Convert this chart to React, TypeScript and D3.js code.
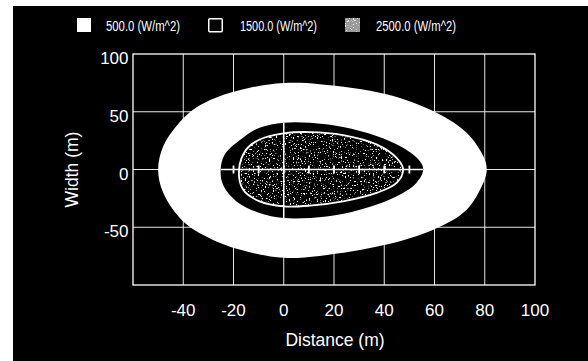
import React from "react";
import * as d3 from "d3";

const xTicks = [-40, -20, 0, 20, 40, 60, 80, 100];
const yTicks = [100, 50, 0, -50];
const xGrid = [-40, -20, 0, 20, 40, 60, 80];
const yGrid = [50, 0, -50];
const legendLabels = ["500.0 (W/m^2)", "1500.0 (W/m^2)", "2500.0 (W/m^2)"];
const crossTicks = [-20, -10, 0, 10, 20, 30, 40, 50];

// Thermal radiation contours (distance, width) in metres
const contour500: [number, number][] = [
  [-50, 0], [-48, 20], [-42.7, 37.6], [-36, 52], [-26.8, 62.3], [-13.5, 70.7], [0, 74.8],
  [14.3, 73.9], [40.9, 65.2], [60.8, 49.2], [72.8, 31.8], [79.4, 11.6], [80.8, 0],
  [79.4, -11.6], [72.8, -34.8], [60.8, -50.8], [40.9, -65], [14.3, -74.8], [0, -76.5],
  [-13.5, -71.6], [-26.8, -62.3], [-40, -45], [-48, -20],
];
const contour1500: [number, number][] = [
  [-25.1, 0], [-23.5, 13], [-16.2, 27.5], [-9.6, 36.2], [0, 40.5], [10.4, 40.5], [23.6, 36.8],
  [36.9, 29], [47.5, 18.8], [54.2, 7.2], [55.5, 0], [52.8, -11.6], [43.5, -24.7],
  [30.3, -34.8], [17, -40.6], [0, -42], [-9.6, -37.7], [-18.8, -27.6], [-24.2, -13],
];
const contour2500: [number, number][] = [
  [-17.8, 0], [-14.9, 17.4], [-9.6, 26], [0, 31.3], [10.4, 32.4], [23.6, 29.8], [36.9, 21.7],
  [44.9, 10], [47.5, 0], [44.9, -11.6], [36.9, -20.3], [23.6, -27.6], [10.4, -31.3],
  [0, -31.9], [-9.6, -27.6], [-16.2, -17.4],
];

const W = 588, H = 361;
const x = d3.scaleLinear().domain([-60, 100]).range([133, 535]);
const y = d3.scaleLinear().domain([-100, 100]).range([285, 54]);
const shape = d3
  .line<[number, number]>()
  .x((d) => x(d[0]))
  .y((d) => y(d[1]))
  .curve(d3.curveCatmullRomClosed.alpha(0.5));

const font = "'Liberation Sans', Arial, sans-serif";

export default function App() {
  const p500 = shape(contour500) || "";
  const p1500 = shape(contour1500) || "";
  const p2500 = shape(contour2500) || "";
  const legendX = [77, 208, 345];
  const legendTextX = [106, 240, 376];
  const legendW = [74, 77, 80];
  const [ix0, ix1] = d3.extent(contour2500, (d) => d[0]) as [number, number];
  const [iy0, iy1] = d3.extent(contour2500, (d) => d[1]) as [number, number];
  return (
    <svg
      width={W}
      height={H}
      style={{ position: "absolute", left: 0, top: 0, background: "#fff" }}
      fontFamily={font}
    >
      <defs>
        <filter id="speck" x="0" y="0" width="1" height="1" filterUnits="objectBoundingBox">
          <feTurbulence type="fractalNoise" baseFrequency="0.75" numOctaves="2" seed="4" result="n" />
          <feColorMatrix
            in="n"
            type="matrix"
            values="0 0 0 0 1  0 0 0 0 1  0 0 0 0 1  10 0 0 0 -6.1"
          />
        </filter>
        <clipPath id="innerClip">
          <path d={p2500} />
        </clipPath>
        <clipPath id="bandClip">
          <path d={p1500} />
        </clipPath>
      </defs>
      <rect x={13} y={6} width={575} height={355} fill="#000" />

      {/* legend */}
      <rect x={legendX[0]} y={18} width={14} height={14} fill="#fff" />
      <rect x={legendX[1] + 0.75} y={18.75} width={13.5} height={13} fill="#000" stroke="#fff" strokeWidth={1.5} rx={1} />
      <rect x={legendX[2]} y={18} width={15} height={14} fill="#9a9a9a" />
      <rect x={legendX[2]} y={18} width={15} height={14} fill="#fff" filter="url(#speck)" />
      {legendLabels.map((t, i) => (
        <text
          key={t}
          x={legendTextX[i]}
          y={31}
          fill="#fff"
          fontSize={15}
          textLength={legendW[i]}
          lengthAdjust="spacingAndGlyphs"
        >
          {t}
        </text>
      ))}

      {/* grid */}
      {xGrid.map((v) => (
        <line key={"gx" + v} x1={x(v)} x2={x(v)} y1={y(100)} y2={y(-100)} stroke="#fff" strokeWidth={1} opacity={0.9} />
      ))}
      {yGrid.map((v) => (
        <line key={"gy" + v} x1={x(-60)} x2={x(100)} y1={y(v)} y2={y(v)} stroke="#fff" strokeWidth={1} opacity={0.9} />
      ))}

      {/* contours */}
      <path d={p500} fill="#fff" />
      <path d={p1500} fill="#000" />
      <g clipPath="url(#innerClip)">
        <rect
          x={x(ix0) - 2}
          y={y(iy1) - 2}
          width={x(ix1) - x(ix0) + 4}
          height={y(iy0) - y(iy1) + 4}
          fill="#fff"
          filter="url(#speck)"
        />
      </g>
      <path d={p2500} fill="none" stroke="#fff" strokeWidth={1.8} />
      <g clipPath="url(#bandClip)" stroke="#fff">
        <line x1={x(-30)} x2={x(60)} y1={y(0)} y2={y(0)} strokeWidth={1.5} />
        <line x1={x(0)} x2={x(0)} y1={y(50)} y2={y(-50)} strokeWidth={1.5} />
        {crossTicks.map((v) => (
          <line key={"ct" + v} x1={x(v)} x2={x(v)} y1={y(0) - 4} y2={y(0) + 4} strokeWidth={1.8} />
        ))}
      </g>

      {/* frame */}
      <rect x={x(-60)} y={y(100)} width={x(100) - x(-60)} height={y(-100) - y(100)} fill="none" stroke="#fff" strokeWidth={1.3} />

      {/* axes labels */}
      {xTicks.map((v) => (
        <text key={"xt" + v} x={x(v)} y={315.5} fill="#fff" fontSize={17} textAnchor="middle">
          {v}
        </text>
      ))}
      {yTicks.map((v) => (
        <text key={"yt" + v} x={128.5} y={y(v) + 10} fill="#fff" fontSize={17} textAnchor="end">
          {v}
        </text>
      ))}
      <text x={335} y={346} fill="#fff" fontSize={17.5} textAnchor="middle">
        Distance (m)
      </text>
      <text
        transform={`translate(78,${y(0)}) rotate(-90)`}
        fill="#fff"
        fontSize={17.5}
        textAnchor="middle"
      >
        Width (m)
      </text>
    </svg>
  );
}
